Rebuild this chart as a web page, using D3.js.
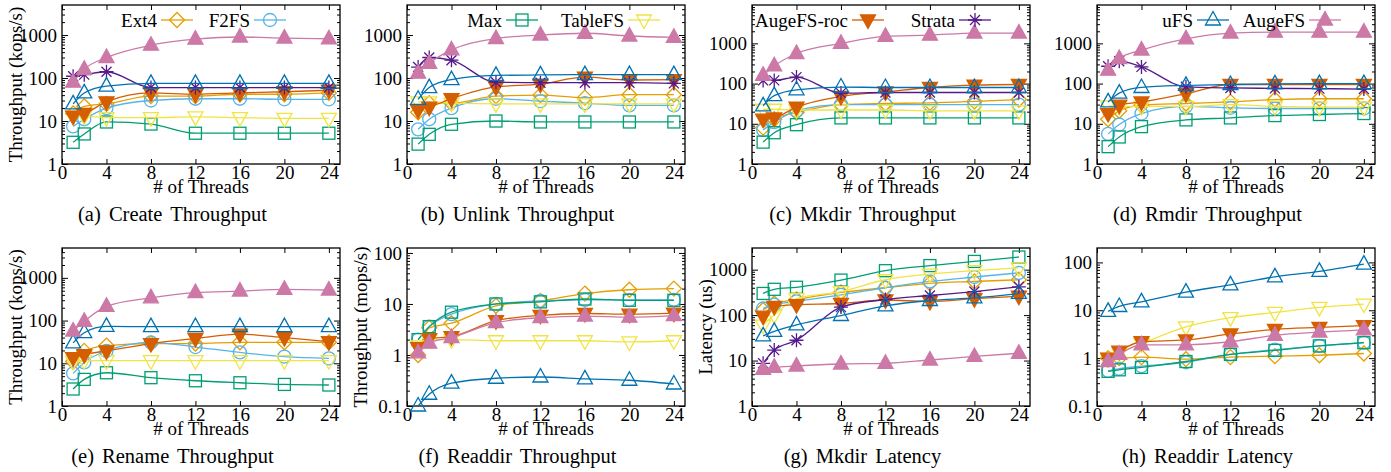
<!DOCTYPE html>
<html>
<head>
<meta charset="utf-8">
<script src="https://cdn.jsdelivr.net/npm/d3@7"></script>
<style>
  body { margin: 0; background: #fff; }
  svg { display: block; }
  text { font-family: "Liberation Serif", "Times New Roman", serif; fill: #000; }
</style>
</head>
<body>
<svg id="chart" width="1391" height="472"></svg>
<script>
// Thread counts on the x axis.
var threads = [1, 2, 4, 8, 12, 16, 20, 24];
var xTicks = [0, 4, 8, 12, 16, 20, 24];

// Series, always in this order: Ext4, F2FS, Max, TableFS, AugeFS-roc, Strata, uFS, AugeFS.
var seriesNames = ["Ext4", "F2FS", "Max", "TableFS", "AugeFS-roc", "Strata", "uFS", "AugeFS"];
var seriesColors = ["#E69F00", "#56B4E9", "#009E73", "#F0E442", "#D55E00", "#55198B", "#0072B2", "#CC79A7"];
var seriesSymbols = ["diamond", "circle", "square", "triDown", "triDownFill", "star", "triUp", "triUpFill"];

// Values, one row per series (null = series not plotted).
var createTput = [
  [15, 22, 25, 38, 38, 42, 42, 45],
  [7.5, 11, 20, 30, 33, 33, 32, 32],
  [3.2, 5, 9.5, 8.5, 5.2, 5.2, 5.2, 5.2],
  [13, 13, 12, 12, 12.5, 12, 11.5, 11.5],
  [13, 15, 28, 45, 42, 45, 48, 52],
  [110, 120, 140, 60, 60, 60, 60, 60],
  [25, 45, 65, 75, 75, 75, 75, 75],
  [80, 160, 300, 580, 800, 900, 850, 820]
];
var unlinkTput = [
  [16, 26, 26, 38, 40, 35, 41, 41],
  [6.4, 11, 20, 33, 29, 26, 23, 23],
  [2.9, 4.9, 8.4, 10, 9.5, 9.5, 9.5, 9.5],
  [28, 28, 26, 25, 25, 25, 25, 25],
  [18, 21, 33, 62, 72, 105, 90, 92],
  [180, 300, 260, 80, 78, 78, 78, 75],
  [32, 60, 92, 115, 118, 120, 120, 120],
  [130, 220, 450, 830, 1000, 1100, 950, 880]
];
var mkdirTput = [
  [8, 13, 19, 30, 32, 33, 36, 40],
  [7, 11, 21, 30, 30, 30, 30, 30],
  [3.5, 6, 9.5, 14, 14, 14, 14, 14],
  [23, 23, 22, 22, 22, 21, 21, 21],
  [13, 14, 26, 48, 62, 80, 92, 95],
  [120, 120, 145, 58, 60, 60, 60, 60],
  [28, 50, 70, 82, 80, 80, 80, 80],
  [160, 275, 560, 1000, 1500, 1600, 1800, 1800]
];
var rmdirTput = [
  [13, 21, 29, 32, 35, 40, 42, 42],
  [5.6, 9.6, 18, 27, 25, 24, 24, 24],
  [2.7, 4.7, 8.5, 12.5, 14, 16, 17, 18],
  [28, 27, 27, 27, 30, 27, 26, 26],
  [18, 29, 35, 56, 95, 95, 95, 95],
  [270, 360, 260, 83, 78, 76, 75, 73],
  [35, 58, 80, 90, 95, 98, 100, 100],
  [215, 420, 680, 1300, 1800, 1900, 1900, 1900]
];
var renameTput = [
  [11, 19.5, 26, 29, 29, 31, 31, 31],
  [5.8, 10.5, 19.5, 31, 24, 18, 14.3, 13],
  [2.5, 4.2, 6, 4.6, 3.9, 3.5, 3.2, 3.1],
  [11, 11.5, 11.5, 11.5, 11.5, 11.5, 11.5, 11.5],
  [13.5, 16, 19.5, 29, 38, 48, 40, 32],
  null,
  [30, 52, 73, 72, 72, 72, 72, 72],
  [57, 96, 215, 340, 450, 490, 540, 520]
];
var readdirTput = [
  [1.0, 3.4, 4.2, 9.2, 11.5, 16, 19, 20],
  [2, 3.6, 6.3, 10, 11.5, 12, 12, 12],
  [2, 3.6, 6.9, 10, 11, 12.5, 11.8, 11.8],
  [1.5, 2, 2, 1.9, 1.9, 1.9, 1.8, 1.9],
  [1.4, 2.1, 2.3, 4.7, 6, 6.5, 6.3, 6.6],
  null,
  [0.1, 0.17, 0.28, 0.35, 0.37, 0.34, 0.32, 0.27],
  [1.1, 1.7, 2.2, 4.3, 5.4, 5.8, 5.5, 5.9]
];
var mkdirLat = [
  [130, 180, 220, 315, 400, 500, 550, 600],
  [140, 170, 200, 280, 400, 550, 690, 850],
  [300, 370, 410, 590, 950, 1230, 1520, 1900],
  [60, 100, 230, 330, 600, 800, 950, 1100],
  [95, 155, 170, 180, 215, 200, 230, 260],
  [8.7, 17, 28, 150, 220, 270, 330, 420],
  [35, 44, 61, 98, 160, 210, 240, 300],
  [6.4, 7.1, 7.6, 8.4, 8.7, 10.3, 12.3, 14.5]
];
var readdirLat = [
  [1, 1, 1.05, 0.95, 1.05, 1.1, 1.15, 1.25],
  [0.54, 0.6, 0.68, 0.82, 1.2, 1.5, 1.8, 2.1],
  [0.53, 0.57, 0.64, 0.85, 1.2, 1.45, 1.8, 2.1],
  [1, 1.3, 2, 4.5, 7, 9, 11.5, 13.5],
  [1, 1.4, 2.2, 2.4, 3.2, 4, 4.4, 4.8],
  null,
  [9.5, 12, 15, 24, 34, 50, 65, 92],
  [0.85, 1.2, 1.9, 1.9, 2.2, 3, 3.5, 3.9]
];

// Panel texts and axes.
var panelData = [createTput, unlinkTput, mkdirTput, rmdirTput, renameTput, readdirTput, mkdirLat, readdirLat];
var captions = ["(a) Create Throughput", "(b) Unlink Throughput", "(c) Mkdir Throughput", "(d) Rmdir Throughput",
                "(e) Rename Throughput", "(f) Readdir Throughput", "(g) Mkdir Latency", "(h) Readdir Latency"];
var yLabels = ["Throughput (kops/s)", "", "", "", "Throughput (kops/s)", "Throughput (mops/s)", "Latency (us)", ""];
var yDomains = [[1, 5000], [1, 5000], [1, 9000], [1, 9000], [1, 5000], [0.1, 125], [1, 3000], [0.1, 200]];
var yTickValues = [
  [1, 10, 100, 1000], [1, 10, 100, 1000], [1, 10, 100, 1000], [1, 10, 100, 1000],
  [1, 10, 100, 1000], [0.1, 1, 10, 100], [1, 10, 100, 1000], [0.1, 1, 10, 100]
];
// Two key entries per top-row panel: series index.
var legendSeries = [[0, 1], [2, 3], [4, 5], [6, 7]];
var legendTextRight = [[95, 188], [95, 217], [96, 203], [96, 208]];

var svg = d3.select("#chart");
var colW = 345, plotW = 278;
var plotLefts = [62, 407, 752, 1097];
var rowTops = [5, 248], rowBottoms = [164, 406];

var line = d3.line().curve(d3.curveMonotoneX);

function symbol(g, type, cx, cy, color) {
  var filled = /Fill$/.test(type);
  var s;
  if (type == "square") {
    s = g.append("rect").attr("x", cx - 6).attr("y", cy - 6).attr("width", 12).attr("height", 12);
  } else if (type == "circle") {
    s = g.append("circle").attr("cx", cx).attr("cy", cy).attr("r", 6.5);
  } else if (type == "diamond") {
    s = g.append("path").attr("d", "M" + cx + "," + (cy - 7.5) + "L" + (cx + 7.5) + "," + cy +
      "L" + cx + "," + (cy + 7.5) + "L" + (cx - 7.5) + "," + cy + "Z");
  } else if (type.indexOf("triUp") == 0) {
    s = g.append("path").attr("d", "M" + cx + "," + (cy - 8.5) + "L" + (cx + 7.5) + "," + (cy + 5) +
      "L" + (cx - 7.5) + "," + (cy + 5) + "Z");
  } else if (type.indexOf("triDown") == 0) {
    s = g.append("path").attr("d", "M" + cx + "," + (cy + 8.5) + "L" + (cx + 7.5) + "," + (cy - 5) +
      "L" + (cx - 7.5) + "," + (cy - 5) + "Z");
  } else if (type == "star") {
    var r = 7, d = 5;
    s = g.append("path").attr("d",
      "M" + (cx - r) + "," + cy + "H" + (cx + r) + "M" + cx + "," + (cy - r) + "V" + (cy + r) +
      "M" + (cx - d) + "," + (cy - d) + "L" + (cx + d) + "," + (cy + d) +
      "M" + (cx - d) + "," + (cy + d) + "L" + (cx + d) + "," + (cy - d));
  }
  s.attr("fill", filled ? color : "none").attr("stroke", color).attr("stroke-width", 1.3);
}

panelData.forEach(function(data, p) {
  var col = p % 4, row = Math.floor(p / 4);
  var left = plotLefts[col], top = rowTops[row], bottom = rowBottoms[row];

  var x = d3.scaleLinear().domain([0, 25]).range([left, left + plotW]);
  var y = d3.scaleLog().domain(yDomains[p]).range([bottom, top]);

  var g = svg.append("g").attr("class", "panel");

  // Minor log ticks between decades.
  var minors = [];
  var lo = Math.round(Math.log10(yDomains[p][0])), hi = Math.ceil(Math.log10(yDomains[p][1]));
  for (var e = lo; e < hi; e++) {
    for (var m = 2; m < 10; m++) {
      var v = m * Math.pow(10, e);
      if (v < yDomains[p][1]) minors.push(v);
    }
  }

  g.append("g").attr("transform", "translate(0," + bottom + ")")
    .call(d3.axisBottom(x).tickValues(xTicks).tickSize(-5).tickPadding(1.5).tickFormat(d3.format("d")));
  g.append("g").attr("transform", "translate(0," + top + ")")
    .call(d3.axisTop(x).tickValues(xTicks).tickSize(-5).tickFormat(""));
  g.append("g").attr("transform", "translate(" + left + ",0)")
    .call(d3.axisLeft(y).tickValues(yTickValues[p]).tickSize(-6).tickPadding(5).tickFormat(function(d) { return d + ""; }));
  g.append("g").attr("transform", "translate(" + left + ",0)")
    .call(d3.axisLeft(y).tickValues(minors).tickSize(-3).tickFormat(""));
  g.append("g").attr("transform", "translate(" + (left + plotW) + ",0)")
    .call(d3.axisRight(y).tickValues(yTickValues[p]).tickSize(-6).tickFormat(""));
  g.append("g").attr("transform", "translate(" + (left + plotW) + ",0)")
    .call(d3.axisRight(y).tickValues(minors).tickSize(-3).tickFormat(""));

  g.selectAll(".domain").remove();
  g.selectAll(".tick line").attr("stroke", "#000").attr("stroke-width", 1);
  g.selectAll(".tick text").style("font-family", "Liberation Serif, serif").style("font-size", "19px").attr("fill", "#000");

  g.append("rect").attr("x", left).attr("y", top).attr("width", plotW).attr("height", bottom - top)
    .attr("fill", "none").attr("stroke", "#000").attr("stroke-width", 1.3);

  // Series: line, then its points.
  data.forEach(function(vals, s) {
    if (!vals) return;
    var pts = threads.map(function(t, i) { return [x(t), y(vals[i])]; });
    g.append("path").attr("d", line(pts)).attr("fill", "none")
      .attr("stroke", seriesColors[s]).attr("stroke-width", 1.3);
    var pg = g.append("g");
    pts.forEach(function(pt) { symbol(pg, seriesSymbols[s], pt[0], pt[1], seriesColors[s]); });
  });

  // Key for the top row.
  if (row == 0) {
    legendSeries[col].forEach(function(s, k) {
      var tx = left + legendTextRight[col][k], ly = top + 15;
      g.append("text").attr("x", tx).attr("y", ly + 6.5).attr("text-anchor", "end")
        .style("font-size", "19px").text(seriesNames[s]);
      g.append("line").attr("x1", tx + 4).attr("x2", tx + 36).attr("y1", ly).attr("y2", ly)
        .attr("stroke", seriesColors[s]).attr("stroke-width", 1.3);
      symbol(g, seriesSymbols[s], tx + 20, ly, seriesColors[s]);
    });
  }

  g.append("text").attr("x", left + plotW / 2).attr("y", bottom + 29).attr("text-anchor", "middle")
    .style("font-size", "19px").text("# of Threads");

  if (yLabels[p]) {
    var lx = col * colW + 22, ly2 = (top + bottom) / 2;
    g.append("text").attr("transform", "translate(" + lx + "," + ly2 + ") rotate(-90)")
      .attr("text-anchor", "middle").style("font-size", "19px").text(yLabels[p]);
  }

  g.append("text").attr("x", col * colW + 172.5).attr("y", bottom + 57).attr("text-anchor", "middle")
    .style("font-size", "20.5px").style("word-spacing", "3px").text(captions[p]);
});
</script>
</body>
</html>
